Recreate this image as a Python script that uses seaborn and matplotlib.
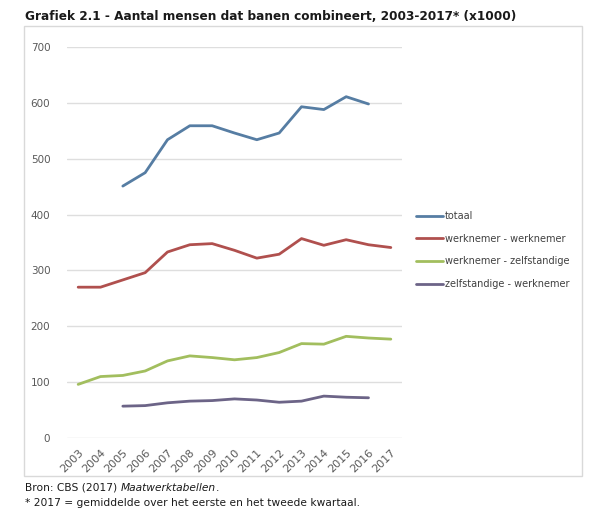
import numpy as np
import pandas as pd
import seaborn as sns
import matplotlib.pyplot as plt
from matplotlib.patches import Rectangle

years = ["2003", "2004", "2005", "2006", "2007", "2008", "2009", "2010",
         "2011", "2012", "2013", "2014", "2015", "2016", "2017"]
totaal = [np.nan, np.nan, 451, 475, 534, 559, 559, 546, 534, 546, 593, 588, 611, 598, np.nan]
werkn_werkn = [270, 270, 283, 296, 333, 346, 348, 336, 322, 329, 357, 345, 355, 346, 341]
werkn_zelfst = [96, 110, 112, 120, 138, 147, 144, 140, 144, 153, 169, 168, 182, 179, 177]
zelfst_werkn = [np.nan, np.nan, 57, 58, 63, 66, 67, 70, 68, 64, 66, 75, 73, 72, np.nan]
series_names = ["totaal", "werknemer - werknemer", "werknemer - zelfstandige", "zelfstandige - werknemer"]
colors = ["#567DA3", "#B0504E", "#A2BE5E", "#6C6487"]
yticks = [0, 100, 200, 300, 400, 500, 600, 700]

rows = []
for name, vals in zip(series_names, [totaal, werkn_werkn, werkn_zelfst, zelfst_werkn]):
    for i, (y, v) in enumerate(zip(years, vals)):
        rows.append({"idx": i, "jaar": y, "serie": name, "waarde": v})
df = pd.DataFrame(rows).dropna()

sns.set_style("white")
plt.rcParams["font.family"] = ["DejaVu Sans"]

fig = plt.figure(figsize=(6.06, 5.19), dpi=100)
fig.patch.set_facecolor("white")
fig.patches.append(Rectangle((24 / 606, 1 - 476 / 519), 558 / 606, 450 / 519,
                             transform=fig.transFigure, fill=False,
                             edgecolor="#D9D9D9", linewidth=1.0, zorder=0))

ax = fig.add_axes([67 / 606, 1 - 438 / 519, 335 / 606, 391 / 519])
sns.lineplot(data=df, x="idx", y="waarde", hue="serie", hue_order=series_names,
             palette=colors, linewidth=2.0, ax=ax, legend=True)

ax.set_xlim(-0.5, len(years) - 0.5)
ax.set_ylim(0, 700)
ax.set_yticks(yticks)
ax.set_yticklabels([str(t) for t in yticks], fontsize=7.5, color="#595959")
ax.set_xticks(range(len(years)))
ax.set_xticklabels(years, rotation=45, ha="right", rotation_mode="anchor",
                   fontsize=8, color="#595959")
ax.tick_params(axis="both", length=0)
ax.tick_params(axis="y", pad=12)
ax.tick_params(axis="x", pad=7)
ax.grid(axis="y", color="#DEDEDE", linewidth=1.0)
ax.set_axisbelow(True)
for s in ax.spines.values():
    s.set_visible(False)
ax.set_xlabel("")
ax.set_ylabel("")

handles, labels = ax.get_legend_handles_labels()
leg = ax.legend(handles, labels, loc="upper left",
                bbox_to_anchor=(416 / 606, 1 - 211 / 519),
                bbox_transform=fig.transFigure, frameon=False,
                fontsize=7.0, handlelength=2.8, handletextpad=0.2,
                labelspacing=1.3, borderpad=0, borderaxespad=0)
for t in leg.get_texts():
    t.set_color("#404040")
for l in leg.get_lines():
    l.set_linewidth(2.0)

fig.text(25 / 606, 1 - 17 / 519, "Grafiek 2.1 - Aantal mensen dat banen combineert, 2003-2017* (x1000)",
         fontsize=8.7, fontweight="bold", color="#1a1a1a", va="center", ha="left")

fs = 7.7
t1 = fig.text(25 / 606, 1 - 488 / 519, "Bron: CBS (2017) ", fontsize=fs,
              color="#1a1a1a", va="center", ha="left")
fig.canvas.draw()
bb = t1.get_window_extent()
t2 = fig.text(bb.x1 / fig.bbox.width, 1 - 488 / 519, "Maatwerktabellen", fontsize=fs,
              style="italic", color="#1a1a1a", va="center", ha="left")
fig.canvas.draw()
bb2 = t2.get_window_extent()
fig.text(bb2.x1 / fig.bbox.width, 1 - 488 / 519, ".", fontsize=fs,
         color="#1a1a1a", va="center", ha="left")
fig.text(25 / 606, 1 - 503 / 519, "* 2017 = gemiddelde over het eerste en het tweede kwartaal.",
         fontsize=fs, color="#1a1a1a", va="center", ha="left")

fig.savefig("out.png", dpi=100, facecolor="white")
